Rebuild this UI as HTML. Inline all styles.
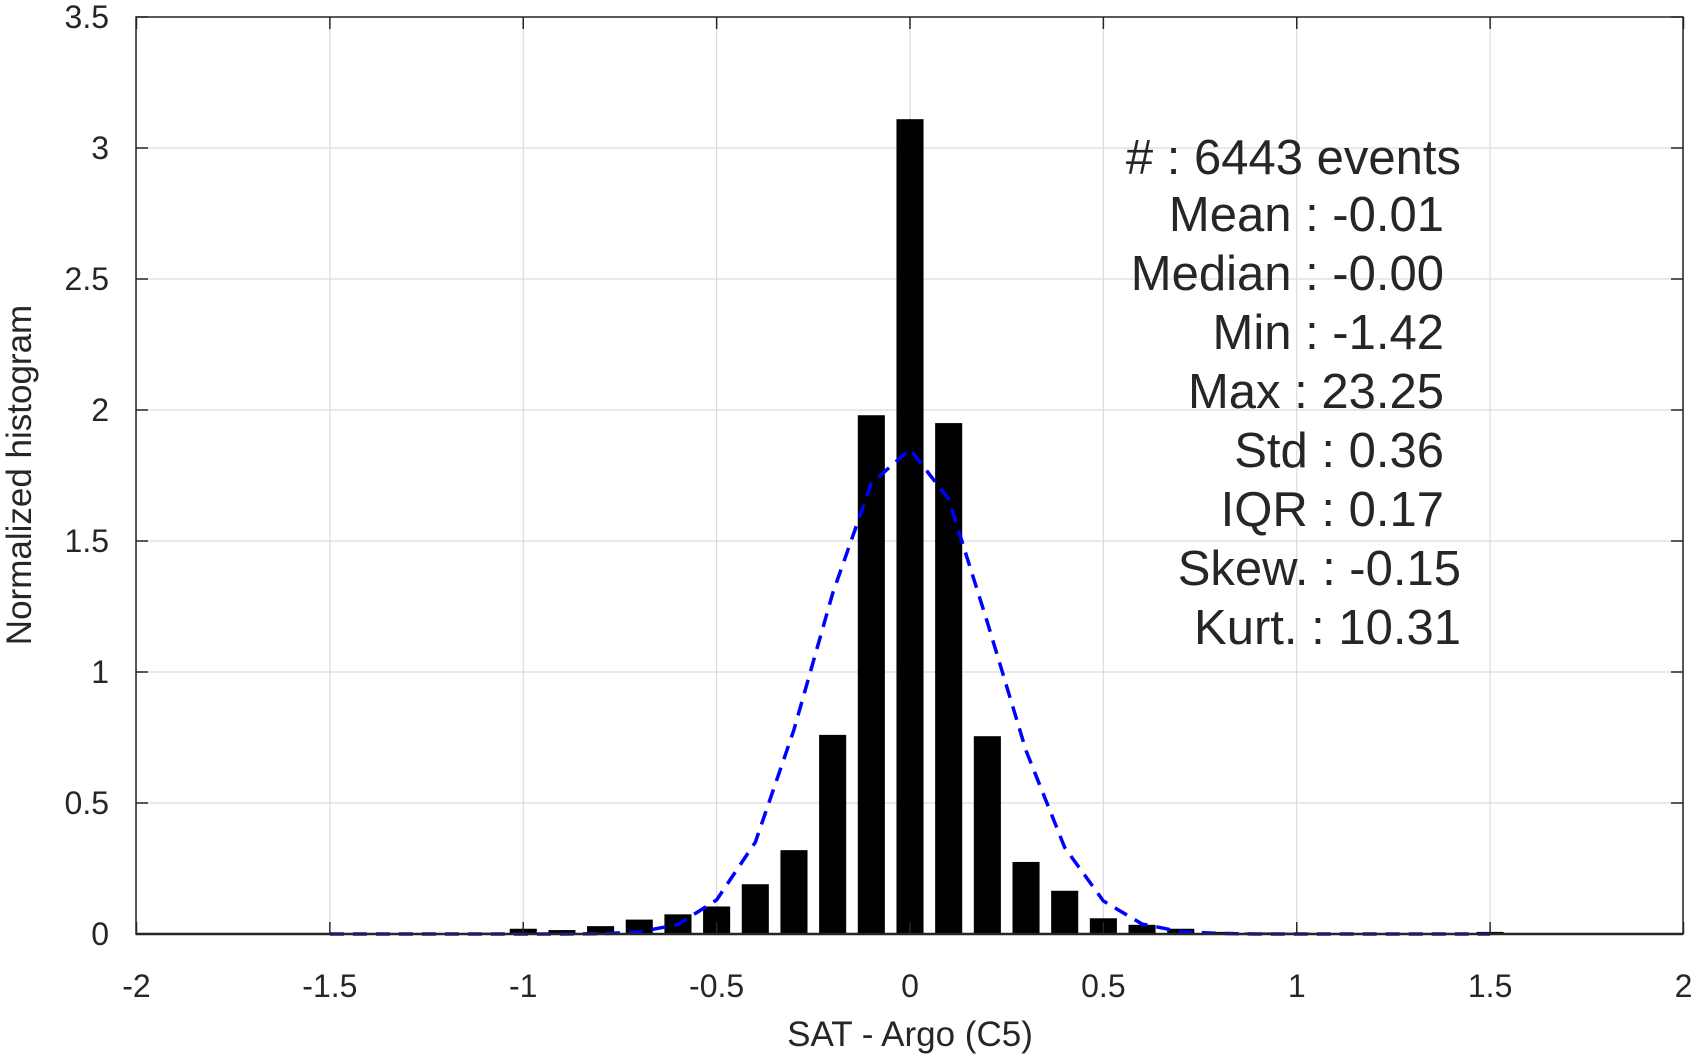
<!DOCTYPE html>
<html><head><meta charset="utf-8"><style>body{margin:0;background:#fff}svg{display:block}text{font-family:"Liberation Sans","DejaVu Sans",sans-serif;fill:#262626}</style></head>
<body>
<svg id="chart" width="1703" height="1056" xmlns="http://www.w3.org/2000/svg">
<g id="grid"></g>
<g id="bars"></g>
<polyline id="fit" fill="none" stroke="#0000ff" stroke-width="3.5" stroke-dasharray="14,9"/>
<rect x="136" y="17" width="1547" height="917" fill="none" stroke="#262626" stroke-width="1.5"/>
<g id="axes"></g>
<text x="910" y="1046" font-size="35" text-anchor="middle">SAT - Argo (C5)</text>
<text transform="translate(31,475) rotate(-90)" font-size="35" text-anchor="middle">Normalized histogram</text>
<g font-size="49" text-anchor="end">
<text x="1461" y="174">#  : 6443 events</text>
<text x="1444" y="231">Mean : -0.01</text>
<text x="1444" y="290">Median : -0.00</text>
<text x="1444" y="349">Min : -1.42</text>
<text x="1444" y="408">Max : 23.25</text>
<text x="1444" y="467">Std : 0.36</text>
<text x="1444" y="526">IQR : 0.17</text>
<text x="1461" y="585">Skew. : -0.15</text>
<text x="1461" y="644">Kurt. : 10.31</text>
</g>
</svg>
<script>
const binCenters=[-1.3,-1.2,-1.1,-1.0,-0.9,-0.8,-0.7,-0.6,-0.5,-0.4,-0.3,-0.2,-0.1,0,0.1,0.2,0.3,0.4,0.5,0.6,0.7,0.8,0.9,1.0,1.1,1.2,1.3,1.4,1.5];
const binValues=[0.002,0.002,0.005,0.02,0.015,0.03,0.055,0.075,0.105,0.19,0.32,0.76,1.98,3.11,1.95,0.755,0.275,0.165,0.06,0.035,0.02,0.008,0.006,0.005,0.003,0.002,0.002,0.002,0.008];
const fitX=[-1.5,-1.4,-1.3,-1.2,-1.1,-1.0,-0.9,-0.8,-0.7,-0.6,-0.5,-0.4,-0.3,-0.2,-0.1,0,0.1,0.2,0.3,0.4,0.5,0.6,0.7,0.8,0.9,1.0,1.1,1.2,1.3,1.4,1.5];
const fitY=[0,0,0,0,0,0,0,0.001,0.008,0.036,0.13,0.35,0.78,1.3,1.72,1.85,1.66,1.19,0.70,0.33,0.126,0.038,0.009,0.002,0,0,0,0,0,0,0];
const xTicks=[-2,-1.5,-1,-0.5,0,0.5,1,1.5,2];
const xTickLabels=["-2","-1.5","-1","-0.5","0","0.5","1","1.5","2"];
const yTicks=[0,0.5,1,1.5,2,2.5,3,3.5];
const yTickLabels=["0","0.5","1","1.5","2","2.5","3","3.5"];
const NS="http://www.w3.org/2000/svg";
const X=v=>910+386.75*v, Y=v=>934-262*v;
function mk(t,a,p){const e=document.createElementNS(NS,t);for(const k in a)e.setAttribute(k,a[k]);p.appendChild(e);return e;}
const grid=document.getElementById('grid'),axes=document.getElementById('axes'),bars=document.getElementById('bars');
xTicks.forEach((v,i)=>{
 const g=mk('line',{x1:X(v),x2:X(v),y1:17,y2:934,stroke:'#dcdcdc','stroke-width':1.2},grid);
 
 
 const t1=mk('line',{x1:X(v),x2:X(v),y1:934,y2:922,stroke:'#262626','stroke-width':1.5},axes);
 
 
 const t2=mk('line',{x1:X(v),x2:X(v),y1:17,y2:29,stroke:'#262626','stroke-width':1.5},axes);
 
 
 const l=mk('text',{x:X(v),y:997,'font-size':32,'text-anchor':'middle'},axes);l.textContent=xTickLabels[i];
 
 
});
yTicks.forEach((v,i)=>{
 const g=mk('line',{x1:136,x2:1683,y1:Y(v),y2:Y(v),stroke:'#dcdcdc','stroke-width':1.2},grid);
 
 
 const t1=mk('line',{x1:136,x2:148,y1:Y(v),y2:Y(v),stroke:'#262626','stroke-width':1.5},axes);
 
 
 const t2=mk('line',{x1:1671,x2:1683,y1:Y(v),y2:Y(v),stroke:'#262626','stroke-width':1.5},axes);
 
 
 const l=mk('text',{x:109,y:Y(v)+11,'font-size':32,'text-anchor':'end'},axes);l.textContent=yTickLabels[i];
 
 
});
const bw=0.07*386.75;
binCenters.forEach((c,i)=>{
 const h=binValues[i]*262;
 const r=mk('rect',{x:X(c)-bw/2,y:Y(binValues[i]),width:bw,height:h,fill:'#000'},bars);
 
 
});
mk('line',{x1:136,x2:1683,y1:934,y2:934,stroke:'#262626','stroke-width':2.5},axes);
document.getElementById('fit').setAttribute('points',fitX.map((x,i)=>X(x)+','+Y(fitY[i])).join(' '));
</script>
</body></html>
